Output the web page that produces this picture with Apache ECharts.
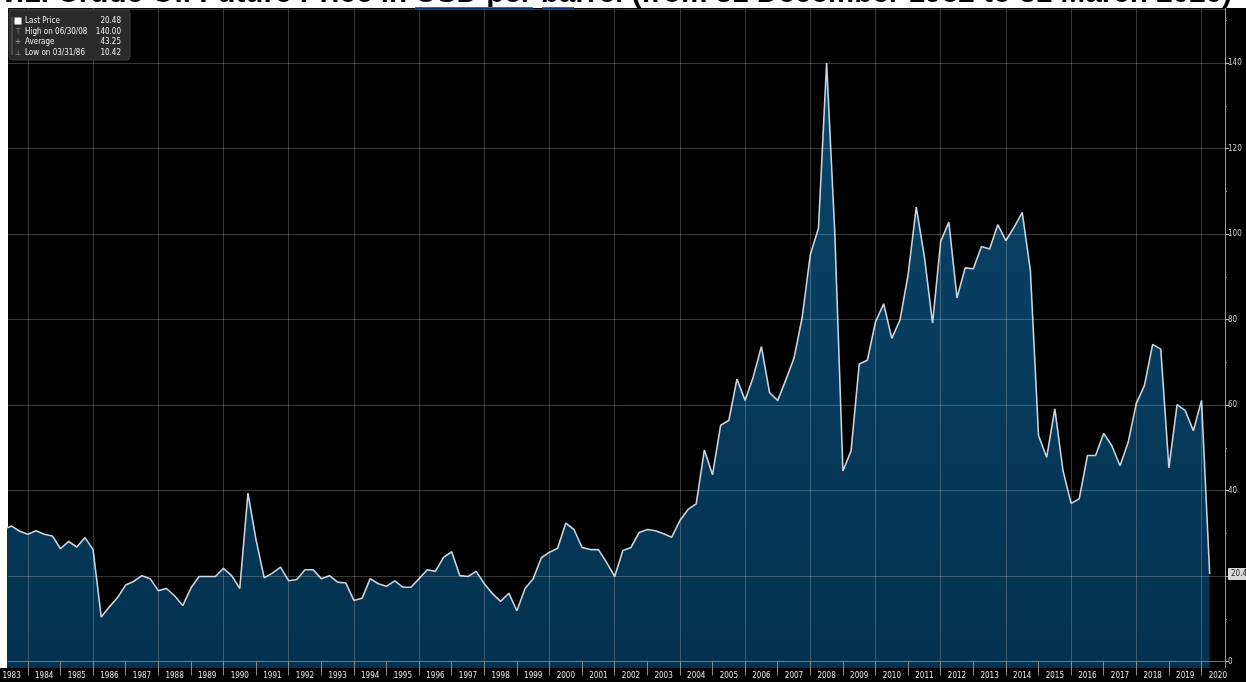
<!DOCTYPE html>
<html>
<head>
<meta charset="utf-8">
<script src="https://cdn.jsdelivr.net/npm/echarts@6/dist/echarts.min.js"></script>
<style>
html,body{margin:0;padding:0;background:#ffffff;}
#chart{width:1246px;height:682px;}
</style>
</head>
<body>
<div id="chart"></div>
<script>
// ---------------- data ----------------
const titleText = 'V.1. Crude Oil Future Price in USD per barrel (from 31 December 1982 to 31 March 2020)';

// quarterly closes, first value = 31 Dec 1982, last value = 31 Mar 2020
const firstQuarterYear = 1983; // 31 Dec 1982 ~ start of 1983
const prices = [
  29.9, 30.9, 31.7, 30.5,
  29.8, 30.6, 29.8, 29.4,
  26.4, 28.1, 26.8, 29.0,
  26.2, 10.42, 12.8, 15.0,
  17.9, 18.8, 20.1, 19.4,
  16.6, 17.1, 15.4, 13.1,
  17.2, 19.9, 19.9, 19.9,
  21.8, 20.1, 17.1, 39.4,
  28.4, 19.6, 20.7, 22.1,
  18.9, 19.2, 21.5, 21.5,
  19.4, 20.1, 18.6, 18.4,
  14.3, 14.8, 19.4, 18.2,
  17.6, 18.9, 17.4, 17.4,
  19.4, 21.5, 21.1, 24.4,
  25.7, 20.1, 19.9, 21.1,
  18.2, 15.9, 14.1, 16.0,
  11.9, 17.1, 19.4, 24.3,
  25.6, 26.5, 32.4, 30.9,
  26.7, 26.2, 26.2, 23.2,
  19.9, 26.0, 26.7, 30.2,
  30.9, 30.6, 29.9, 29.1,
  33.0, 35.6, 36.9, 49.5,
  43.7, 55.3, 56.4, 66.1,
  61.1, 66.6, 73.7, 62.9,
  61.1, 65.9, 71.0, 80.5,
  95.2, 101.4, 140.0, 100.5,
  44.6, 49.3, 69.6, 70.5,
  79.5, 83.7, 75.6, 79.9,
  90.5, 106.3, 94.7, 79.2,
  98.3, 102.8, 85.1, 92.1,
  91.9, 97.1, 96.5, 102.2,
  98.5, 101.6, 105.1, 91.5,
  52.9, 47.8, 59.1, 44.7,
  37.0, 38.1, 48.2, 48.2,
  53.4, 50.5, 45.8, 51.3,
  60.4, 64.6, 74.2, 73.1,
  45.3, 60.1, 58.7, 54.0,
  61.1, 20.48
];

const yearLabels = ['1983','1984','1985','1986','1987','1988','1989','1990','1991','1992',
  '1993','1994','1995','1996','1997','1998','1999','2000','2001','2002','2003','2004',
  '2005','2006','2007','2008','2009','2010','2011','2012','2013','2014','2015','2016',
  '2017','2018','2019','2020'];
const gridYears = [1984,1986,1988,1990,1992,1994,1996,1998,2000,2002,2004,2006,2008,
  2010,2012,2014,2016,2018,2020];
const yTickLabels = [0,20,40,60,80,100,120,140];
const yMinorTicks = [10,30,50,70,90,110,130,150];

const averagePrice = 43.25;
const highDate = '06/30/08';
const lowDate = '03/31/86';

// ---------------- derived ----------------
const seriesData = prices.map((v, i) => [firstQuarterYear + i * 0.25, v]);
const lastPrice = prices[prices.length - 1];
const highPrice = Math.max(...prices);
const lowPrice = Math.min(...prices);
const yearBoundaries = yearLabels.slice(1).map(Number);
const yearMids = yearLabels.map(y => Number(y) + 0.5);

const X_MIN = 1983.39, X_MAX = 2020.72;
const Y_MIN = -1.5, Y_MAX = 152.9;
const narrow = '"Liberation Sans Narrow","DejaVu Sans Condensed","Liberation Sans",sans-serif';

const chart = echarts.init(document.getElementById('chart'), null, {renderer: 'canvas'});

const legendRows = [
  {icon: '', label: 'Last Price', value: lastPrice.toFixed(2)},
  {icon: '\u22A4', label: 'High on ' + highDate, value: highPrice.toFixed(2)},
  {icon: '+', label: 'Average', value: averagePrice.toFixed(2)},
  {icon: '\u22A5', label: 'Low on ' + lowDate, value: lowPrice.toFixed(2)}
];
const legendEls = [
  {type: 'rect', z: 50, shape: {x: 9, y: 10, width: 121, height: 50, r: 3},
   style: {fill: '#2a2a2a', stroke: '#3c3c3c', lineWidth: 1}},
  {type: 'line', z: 51, shape: {x1: 12, y1: 17, x2: 12, y2: 55},
   style: {stroke: '#666', lineWidth: 1}},
  {type: 'rect', z: 52, shape: {x: 14.5, y: 17.5, width: 7, height: 7},
   style: {fill: '#ffffff'}}
];
legendRows.forEach((r, i) => {
  const cy = 21 + i * 10.5;
  if (r.icon) {
    legendEls.push({type: 'text', z: 52, style: {text: r.icon, x: 18, y: cy,
      textAlign: 'center', textVerticalAlign: 'middle', fill: '#aaaaaa', font: '8px ' + narrow}});
  }
  legendEls.push({type: 'text', z: 52, style: {text: r.label, x: 25, y: cy,
    textAlign: 'left', textVerticalAlign: 'middle', fill: '#eeeeee', font: '8px ' + narrow}});
  legendEls.push({type: 'text', z: 52, style: {text: r.value, x: 121, y: cy,
    textAlign: 'right', textVerticalAlign: 'middle', fill: '#eeeeee', font: '8px ' + narrow}});
});

const option = {
  animation: false,
  backgroundColor: '#ffffff',
  grid: {left: 8, right: 21, top: 8, bottom: 14, containLabel: false, outerBoundsMode: 'none'},
  graphic: {elements: [
    {type: 'rect', z: -100, silent: true, shape: {x: 8, y: 8, width: 1238, height: 674}, style: {fill: '#000000'}},
    {type: 'rect', z: -100, silent: true, shape: {x: 0, y: 668, width: 8, height: 14}, style: {fill: '#000000'}},
    {type: 'line', z: 10, silent: true, shape: {x1: 8, y1: 9.5, x2: 1225, y2: 9.5}, style: {stroke: '#3a3a3a', lineWidth: 1}},
    {type: 'text', z: 20, silent: true, style: {text: titleText, x: -1, y: -6,
      textAlign: 'left', textVerticalAlign: 'middle', fill: '#000000',
      font: 'bold 29.7px "Liberation Sans", Arial, sans-serif'}},
    {type: 'rect', z: 21, silent: true, shape: {x: 415, y: 7, width: 118, height: 1.5}, style: {fill: '#1a6fe0'}},
    {type: 'rect', z: 21, silent: true, shape: {x: 542, y: 7, width: 32, height: 1.5}, style: {fill: '#1a6fe0'}}
  ].concat(legendEls)},
  xAxis: [
    {
      type: 'value', min: X_MIN, max: X_MAX, position: 'bottom', z: 5,
      axisLine: {show: false},
      axisTick: {show: false, customValues: gridYears},
      axisLabel: {show: false},
      splitLine: {show: true, customValues: gridYears,
        lineStyle: {color: 'rgba(255,255,255,0.22)', width: 1}}
    },
    {
      type: 'value', min: X_MIN, max: X_MAX, position: 'bottom', z: 6,
      axisLine: {show: true, lineStyle: {color: '#777777', width: 1}},
      axisTick: {show: true, customValues: yearBoundaries, length: 14, inside: false,
        lineStyle: {color: '#8a8a8a', width: 1}},
      axisLabel: {show: true, customValues: yearMids, margin: 4,
        formatter: v => String(Math.floor(v)),
        color: '#e6e6e6', fontSize: 8, fontFamily: narrow},
      splitLine: {show: false}
    }
  ],
  yAxis: [
    {
      type: 'value', position: 'right', min: Y_MIN, max: Y_MAX, z: 5,
      axisLine: {show: true, lineStyle: {color: '#9a9a9a', width: 1}},
      axisTick: {show: true, customValues: yTickLabels, length: 4, inside: false,
        lineStyle: {color: '#bbbbbb'}},
      axisLabel: {show: true, customValues: yTickLabels, margin: 3,
        color: '#cccccc', fontSize: 8, fontFamily: narrow},
      splitLine: {show: true, customValues: yTickLabels,
        lineStyle: {color: 'rgba(255,255,255,0.22)', width: 1}}
    },
    {
      type: 'value', position: 'right', min: Y_MIN, max: Y_MAX, z: 5,
      axisLine: {show: false},
      axisTick: {show: true, customValues: yMinorTicks, length: 2, lineStyle: {color: '#888888'}},
      axisLabel: {show: false},
      splitLine: {show: false}
    },
    {
      type: 'value', position: 'right', min: Y_MIN, max: Y_MAX, z: 8,
      axisLine: {show: false},
      axisTick: {show: false, customValues: [lastPrice]},
      axisLabel: {show: true, customValues: [lastPrice], margin: 3,
        formatter: v => v.toFixed(2),
        color: '#222222', fontSize: 8, fontFamily: narrow,
        backgroundColor: '#d9d9d9', padding: [2, 3], borderRadius: 1},
      splitLine: {show: false}
    }
  ],
  series: [{
    type: 'line',
    xAxisIndex: 0, yAxisIndex: 0,
    data: seriesData,
    showSymbol: false,
    clip: true,
    lineStyle: {color: '#c9d3dc', width: 1.6},
    areaStyle: {
      origin: 'start',
      opacity: 1,
      color: new echarts.graphic.LinearGradient(0, 0, 0, 1, [
        {offset: 0, color: '#0a4669'},
        {offset: 1, color: '#04314f'}
      ])
    },
    z: 2
  }]
};
chart.setOption(option);
</script>
</body>
</html>
